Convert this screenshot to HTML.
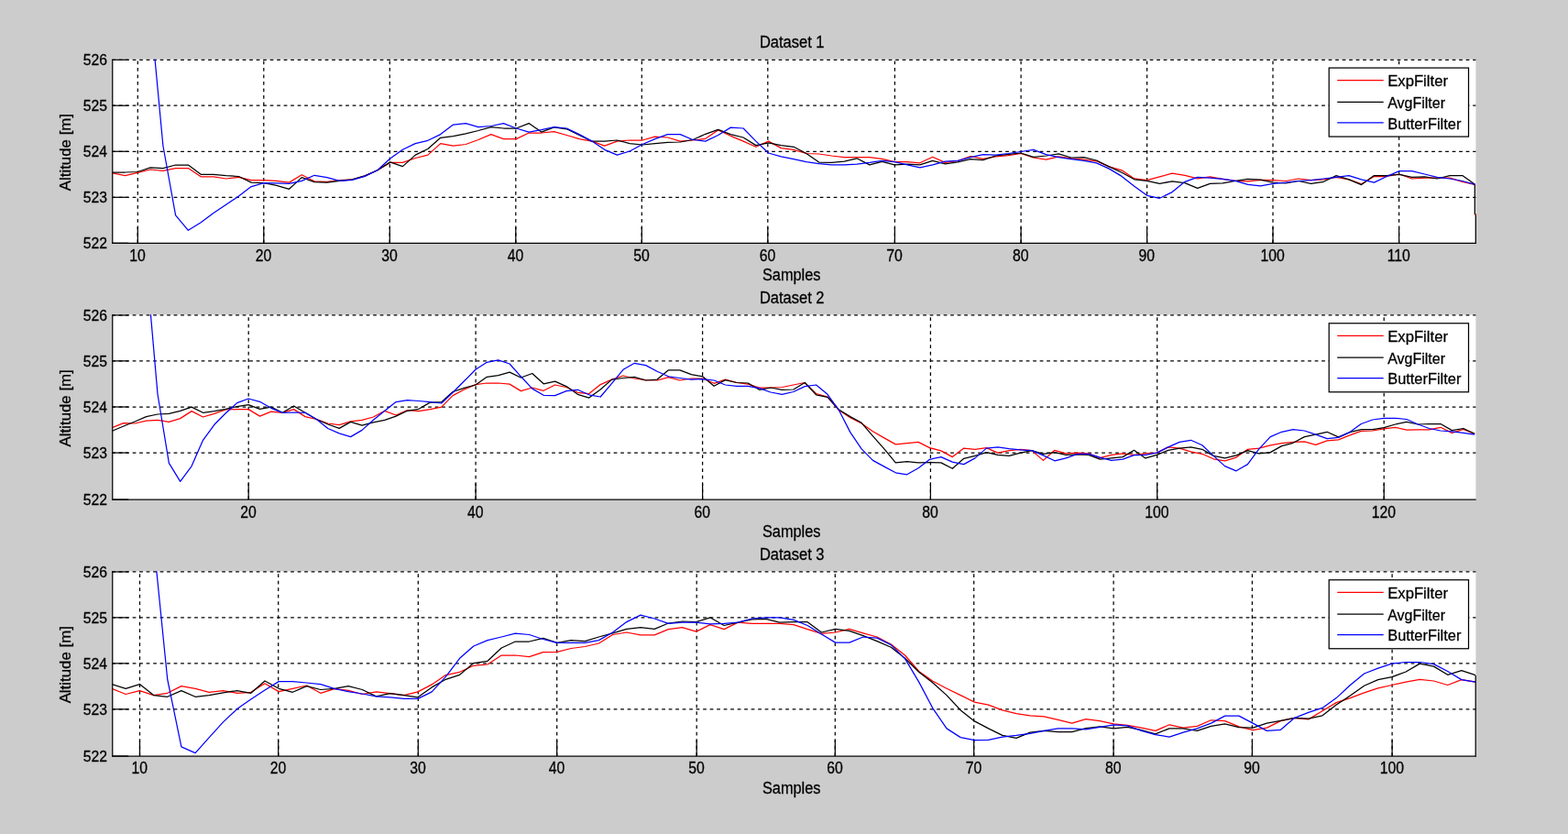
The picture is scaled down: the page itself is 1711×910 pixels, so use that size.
<!DOCTYPE html>
<html lang="en"><head><meta charset="utf-8"><title>Altitude filters</title>
<style>html,body{margin:0;padding:0;background:#cccccc;overflow:hidden}svg{display:block}text{font-family:"Liberation Sans",sans-serif;font-size:16.67px;fill:#000;stroke:#000;stroke-width:0.28px}.ax{stroke:#000;stroke-width:1.25;fill:none}.gr{stroke:#000;stroke-width:1.25;fill:none;stroke-dasharray:3.75 3.75}.c{fill:none;stroke-width:1.25;stroke-linejoin:round}</style></head><body>
<svg width="1711" height="910" viewBox="0 0 1711 910">
<rect x="0" y="0" width="1711" height="910" fill="#cccccc"/>
<g id="plot1">
<clipPath id="cp1"><rect x="122.15" y="64.68" width="1488.85" height="201.22"/></clipPath>
<rect x="122.15" y="64.68" width="1488.25" height="201.22" fill="#fff"/>
<line class="gr" x1="122.15" y1="65.28" x2="1610.40" y2="65.28"/>
<line class="ax" x1="122.75" y1="65.28" x2="140.25" y2="65.28"/>
<text transform="translate(116.9 70.98) scale(0.945 1.04)" text-anchor="end">526</text>
<line class="gr" x1="122.15" y1="115.20" x2="1610.40" y2="115.20"/>
<line class="ax" x1="122.75" y1="115.20" x2="140.25" y2="115.20"/>
<text transform="translate(116.9 120.90) scale(0.945 1.04)" text-anchor="end">525</text>
<line class="gr" x1="122.15" y1="165.25" x2="1610.40" y2="165.25"/>
<line class="ax" x1="122.75" y1="165.25" x2="140.25" y2="165.25"/>
<text transform="translate(116.9 170.95) scale(0.945 1.04)" text-anchor="end">524</text>
<line class="gr" x1="122.15" y1="215.30" x2="1610.40" y2="215.30"/>
<line class="ax" x1="122.75" y1="215.30" x2="140.25" y2="215.30"/>
<text transform="translate(116.9 221.00) scale(0.945 1.04)" text-anchor="end">523</text>
<line class="ax" x1="122.75" y1="265.30" x2="140.25" y2="265.30"/>
<text transform="translate(116.9 271.00) scale(0.945 1.04)" text-anchor="end">522</text>
<line class="gr" x1="150.30" y1="265.30" x2="150.30" y2="65.28" stroke-dashoffset="0"/>
<line class="ax" x1="150.30" y1="265.30" x2="150.30" y2="247.80"/>
<text transform="translate(150.00 284.70) scale(0.945 1.05)" text-anchor="middle">10</text>
<line class="gr" x1="287.80" y1="265.30" x2="287.80" y2="65.28" stroke-dashoffset="0"/>
<line class="ax" x1="287.80" y1="265.30" x2="287.80" y2="247.80"/>
<text transform="translate(287.50 284.70) scale(0.945 1.05)" text-anchor="middle">20</text>
<line class="gr" x1="425.30" y1="265.30" x2="425.30" y2="65.28" stroke-dashoffset="0"/>
<line class="ax" x1="425.30" y1="265.30" x2="425.30" y2="247.80"/>
<text transform="translate(425.00 284.70) scale(0.945 1.05)" text-anchor="middle">30</text>
<line class="gr" x1="562.80" y1="265.30" x2="562.80" y2="65.28" stroke-dashoffset="0"/>
<line class="ax" x1="562.80" y1="265.30" x2="562.80" y2="247.80"/>
<text transform="translate(562.50 284.70) scale(0.945 1.05)" text-anchor="middle">40</text>
<line class="gr" x1="700.30" y1="265.30" x2="700.30" y2="65.28" stroke-dashoffset="0"/>
<line class="ax" x1="700.30" y1="265.30" x2="700.30" y2="247.80"/>
<text transform="translate(700.00 284.70) scale(0.945 1.05)" text-anchor="middle">50</text>
<line class="gr" x1="837.80" y1="265.30" x2="837.80" y2="65.28" stroke-dashoffset="0"/>
<line class="ax" x1="837.80" y1="265.30" x2="837.80" y2="247.80"/>
<text transform="translate(837.50 284.70) scale(0.945 1.05)" text-anchor="middle">60</text>
<line class="gr" x1="976.40" y1="265.30" x2="976.40" y2="65.28" stroke-dashoffset="0"/>
<line class="ax" x1="976.40" y1="265.30" x2="976.40" y2="247.80"/>
<text transform="translate(976.10 284.70) scale(0.945 1.05)" text-anchor="middle">70</text>
<line class="gr" x1="1114.10" y1="265.30" x2="1114.10" y2="65.28" stroke-dashoffset="0"/>
<line class="ax" x1="1114.10" y1="265.30" x2="1114.10" y2="247.80"/>
<text transform="translate(1113.80 284.70) scale(0.945 1.05)" text-anchor="middle">80</text>
<line class="gr" x1="1251.60" y1="265.30" x2="1251.60" y2="65.28" stroke-dashoffset="0"/>
<line class="ax" x1="1251.60" y1="265.30" x2="1251.60" y2="247.80"/>
<text transform="translate(1251.30 284.70) scale(0.945 1.05)" text-anchor="middle">90</text>
<line class="gr" x1="1389.00" y1="265.30" x2="1389.00" y2="65.28" stroke-dashoffset="0"/>
<line class="ax" x1="1389.00" y1="265.30" x2="1389.00" y2="247.80"/>
<text transform="translate(1388.70 284.70) scale(0.945 1.05)" text-anchor="middle">100</text>
<line class="gr" x1="1526.60" y1="265.30" x2="1526.60" y2="65.28" stroke-dashoffset="0"/>
<line class="ax" x1="1526.60" y1="265.30" x2="1526.60" y2="247.80"/>
<text transform="translate(1526.30 284.70) scale(0.945 1.05)" text-anchor="middle">110</text>
<g clip-path="url(#cp1)">
<polyline class="c" stroke="#ff0000" points="122.8,188.8 136.6,191.6 150.3,188.3 164.1,185.0 177.9,186.3 191.6,183.6 205.4,183.6 219.2,192.8 232.9,192.8 246.7,195.0 260.5,193.3 274.2,196.6 288.0,196.6 301.8,197.4 315.5,199.1 329.3,190.8 343.1,197.8 356.8,198.3 370.6,196.6 384.4,195.8 398.1,191.9 411.9,185.8 425.7,177.4 439.4,177.4 453.2,172.5 466.9,169.1 480.7,156.6 494.5,159.1 508.2,157.5 522.0,152.5 535.8,146.6 549.5,151.6 563.3,151.6 577.1,145.0 590.8,145.0 604.6,143.6 618.4,147.5 632.1,151.6 645.9,154.1 659.7,159.1 673.4,154.1 687.2,153.0 701.0,153.0 714.7,149.1 728.5,150.0 742.3,154.1 756.0,153.0 769.8,151.3 783.6,142.0 797.3,148.3 811.1,154.1 824.9,160.3 838.6,154.1 852.4,161.6 866.2,163.3 879.9,167.5 893.7,168.0 907.5,170.0 921.2,171.6 935.0,171.6 948.8,171.6 962.5,173.3 976.3,176.6 990.1,176.6 1003.8,177.8 1017.6,171.3 1031.4,177.4 1045.1,175.5 1058.9,170.5 1072.7,173.3 1086.4,170.8 1100.2,169.6 1114.0,167.5 1127.7,172.0 1141.5,174.1 1155.2,170.8 1169.0,172.8 1182.8,174.1 1196.5,175.8 1210.3,181.9 1224.1,185.8 1237.8,194.9 1251.6,196.6 1265.4,192.9 1279.1,189.1 1292.9,191.3 1306.7,194.9 1320.4,192.9 1334.2,195.3 1348.0,197.4 1361.7,197.8 1375.5,196.3 1389.3,196.6 1403.0,197.5 1416.8,195.0 1430.6,196.6 1444.3,195.8 1458.1,193.3 1471.9,195.8 1485.6,200.8 1499.4,192.5 1513.2,192.5 1526.9,190.0 1540.7,195.0 1554.5,194.1 1568.2,194.1 1582.0,194.1 1595.8,198.3 1609.5,201.3"/>
<polyline class="c" stroke="#000000" points="122.8,188.0 136.6,188.0 150.3,187.5 164.1,182.8 177.9,183.6 191.6,180.0 205.4,180.0 219.2,190.3 232.9,190.3 246.7,191.6 260.5,192.5 274.2,199.1 288.0,199.6 301.8,202.4 315.5,206.3 329.3,193.6 343.1,198.6 356.8,199.1 370.6,197.4 384.4,195.8 398.1,191.9 411.9,185.8 425.7,176.9 439.4,181.6 453.2,169.1 466.9,162.5 480.7,150.3 494.5,148.6 508.2,145.8 522.0,142.5 535.8,138.6 549.5,140.0 563.3,140.0 577.1,134.6 590.8,144.1 604.6,138.8 618.4,140.8 632.1,147.5 645.9,154.1 659.7,154.1 673.4,153.0 687.2,156.6 701.0,158.0 714.7,156.6 728.5,155.3 742.3,155.0 756.0,152.5 769.8,146.3 783.6,141.3 797.3,146.6 811.1,150.0 824.9,158.6 838.6,155.8 852.4,158.6 866.2,160.3 879.9,167.5 893.7,177.1 907.5,177.4 921.2,176.1 935.0,172.8 948.8,179.9 962.5,176.3 976.3,179.9 990.1,179.1 1003.8,179.9 1017.6,175.3 1031.4,178.8 1045.1,176.9 1058.9,173.6 1072.7,174.6 1086.4,170.0 1100.2,168.3 1114.0,167.0 1127.7,171.3 1141.5,170.0 1155.2,167.8 1169.0,172.0 1182.8,171.6 1196.5,175.0 1210.3,181.9 1224.1,188.3 1237.8,195.8 1251.6,197.4 1265.4,200.3 1279.1,197.9 1292.9,199.6 1306.7,205.3 1320.4,200.3 1334.2,199.9 1348.0,197.4 1361.7,195.3 1375.5,196.1 1389.3,199.1 1403.0,200.0 1416.8,197.5 1430.6,200.3 1444.3,198.3 1458.1,191.6 1471.9,195.8 1485.6,201.6 1499.4,191.6 1513.2,191.6 1526.9,190.3 1540.7,193.3 1554.5,192.8 1568.2,195.0 1582.0,191.6 1595.8,191.6 1609.5,201.3"/>
<polyline class="c" stroke="#0000ff" points="164.1,11.7 177.9,159.0 191.6,234.9 205.4,251.3 219.2,242.8 232.9,232.4 246.7,223.3 260.5,214.1 274.2,203.6 288.0,199.6 301.8,199.9 315.5,200.4 329.3,197.4 343.1,191.3 356.8,193.6 370.6,197.4 384.4,196.3 398.1,192.4 411.9,185.8 425.7,173.0 439.4,163.3 453.2,156.6 466.9,153.3 480.7,146.6 494.5,136.1 508.2,134.6 522.0,138.6 535.8,137.5 549.5,134.6 563.3,140.0 577.1,144.1 590.8,141.6 604.6,138.6 618.4,140.0 632.1,146.6 645.9,154.1 659.7,163.3 673.4,169.1 687.2,165.0 701.0,157.5 714.7,151.6 728.5,146.6 742.3,146.6 756.0,152.5 769.8,154.1 783.6,147.5 797.3,139.1 811.1,140.0 824.9,154.1 838.6,167.0 852.4,170.8 866.2,173.6 879.9,176.6 893.7,178.6 907.5,179.9 921.2,179.9 935.0,179.1 948.8,177.4 962.5,175.3 976.3,176.6 990.1,179.9 1003.8,182.9 1017.6,179.9 1031.4,176.1 1045.1,175.3 1058.9,171.6 1072.7,168.6 1086.4,169.1 1100.2,167.5 1114.0,165.5 1127.7,163.3 1141.5,168.6 1155.2,171.6 1169.0,173.6 1182.8,175.3 1196.5,177.9 1210.3,184.1 1224.1,192.4 1237.8,203.3 1251.6,213.3 1265.4,216.3 1279.1,209.6 1292.9,198.3 1306.7,193.3 1320.4,194.1 1334.2,195.3 1348.0,197.4 1361.7,201.3 1375.5,202.9 1389.3,200.3 1403.0,199.1 1416.8,197.5 1430.6,196.6 1444.3,195.0 1458.1,193.3 1471.9,191.6 1485.6,195.8 1499.4,199.1 1513.2,192.5 1526.9,186.6 1540.7,186.6 1554.5,190.0 1568.2,193.3 1582.0,195.0 1595.8,197.5 1609.5,201.3"/>
</g>
<polyline class="ax" points="1609.3,201.3 1609.3,233.5 1610.3,234.5 1610.3,265.9"/>
<rect x="1609.6" y="233.3" width="1.2" height="1.6" fill="#e00"/>
<line class="ax" x1="122.75" y1="64.68" x2="122.75" y2="265.90"/>
<line class="ax" x1="122.15" y1="265.30" x2="1610.70" y2="265.30"/>
<text transform="translate(864.20 52.30) scale(0.99 1.06)" text-anchor="middle">Dataset 1</text>
<text transform="translate(863.70 306.30) scale(0.98 1.07)" text-anchor="middle">Samples</text>
<text transform="translate(77.30 166.09) rotate(-90) scale(1.01 1.03)" text-anchor="middle">Altitude [m]</text>
<rect class="ax" x="1450.20" y="74.08" width="152.30" height="75.00" fill="#fff" style="fill:#fff"/>
<line x1="1459.20" y1="87.73" x2="1509.70" y2="87.73" stroke="#ff0000" stroke-width="1.25"/>
<text transform="translate(1514.20 94.33) scale(1.000 1.01)">ExpFilter</text>
<line x1="1459.20" y1="111.38" x2="1509.70" y2="111.38" stroke="#000000" stroke-width="1.25"/>
<text transform="translate(1514.20 118.18) scale(0.960 1.01)">AvgFilter</text>
<line x1="1459.20" y1="133.93" x2="1509.70" y2="133.93" stroke="#0000ff" stroke-width="1.25"/>
<text transform="translate(1514.20 140.78) scale(0.985 1.01)">ButterFilter</text>
</g>
<g id="plot2">
<clipPath id="cp2"><rect x="122.15" y="343.35" width="1488.85" height="202.35"/></clipPath>
<rect x="122.15" y="343.35" width="1488.25" height="202.35" fill="#fff"/>
<line class="gr" x1="122.15" y1="343.95" x2="1610.40" y2="343.95"/>
<line class="ax" x1="122.75" y1="343.95" x2="140.25" y2="343.95"/>
<text transform="translate(116.9 349.65) scale(0.945 1.04)" text-anchor="end">526</text>
<line class="gr" x1="122.15" y1="393.85" x2="1610.40" y2="393.85"/>
<line class="ax" x1="122.75" y1="393.85" x2="140.25" y2="393.85"/>
<text transform="translate(116.9 399.55) scale(0.945 1.04)" text-anchor="end">525</text>
<line class="gr" x1="122.15" y1="444.00" x2="1610.40" y2="444.00"/>
<line class="ax" x1="122.75" y1="444.00" x2="140.25" y2="444.00"/>
<text transform="translate(116.9 449.70) scale(0.945 1.04)" text-anchor="end">524</text>
<line class="gr" x1="122.15" y1="494.05" x2="1610.40" y2="494.05"/>
<line class="ax" x1="122.75" y1="494.05" x2="140.25" y2="494.05"/>
<text transform="translate(116.9 499.75) scale(0.945 1.04)" text-anchor="end">523</text>
<line class="ax" x1="122.75" y1="545.10" x2="140.25" y2="545.10"/>
<text transform="translate(116.9 550.80) scale(0.945 1.04)" text-anchor="end">522</text>
<line class="gr" x1="271.20" y1="545.10" x2="271.20" y2="343.95" stroke-dashoffset="0"/>
<line class="ax" x1="271.20" y1="545.10" x2="271.20" y2="527.60"/>
<text transform="translate(270.90 564.50) scale(0.945 1.05)" text-anchor="middle">20</text>
<line class="gr" x1="519.10" y1="545.10" x2="519.10" y2="343.95" stroke-dashoffset="0"/>
<line class="ax" x1="519.10" y1="545.10" x2="519.10" y2="527.60"/>
<text transform="translate(518.80 564.50) scale(0.945 1.05)" text-anchor="middle">40</text>
<line class="gr" x1="766.60" y1="545.10" x2="766.60" y2="343.95" stroke-dashoffset="0"/>
<line class="ax" x1="766.60" y1="545.10" x2="766.60" y2="527.60"/>
<text transform="translate(766.30 564.50) scale(0.945 1.05)" text-anchor="middle">60</text>
<line class="gr" x1="1015.40" y1="545.10" x2="1015.40" y2="343.95" stroke-dashoffset="0"/>
<line class="ax" x1="1015.40" y1="545.10" x2="1015.40" y2="527.60"/>
<text transform="translate(1015.10 564.50) scale(0.945 1.05)" text-anchor="middle">80</text>
<line class="gr" x1="1262.70" y1="545.10" x2="1262.70" y2="343.95" stroke-dashoffset="0"/>
<line class="ax" x1="1262.70" y1="545.10" x2="1262.70" y2="527.60"/>
<text transform="translate(1262.40 564.50) scale(0.945 1.05)" text-anchor="middle">100</text>
<line class="gr" x1="1510.20" y1="545.10" x2="1510.20" y2="343.95" stroke-dashoffset="0"/>
<line class="ax" x1="1510.20" y1="545.10" x2="1510.20" y2="527.60"/>
<text transform="translate(1509.90 564.50) scale(0.945 1.05)" text-anchor="middle">120</text>
<g clip-path="url(#cp2)">
<polyline class="c" stroke="#ff0000" points="122.4,466.6 134.8,461.6 147.2,462.0 159.6,459.1 172.0,458.3 184.4,460.3 196.7,456.6 209.1,448.6 221.5,455.0 233.9,451.3 246.3,447.0 258.7,446.6 271.1,446.6 283.5,454.1 295.9,449.1 308.2,450.3 320.6,446.6 333.0,454.6 345.4,457.5 357.8,462.0 370.2,463.6 382.6,459.9 395.0,458.3 407.4,455.0 419.8,448.3 432.1,453.0 444.5,447.5 456.9,448.6 469.3,446.6 481.7,444.1 494.1,431.6 506.5,425.0 518.9,419.6 531.3,418.0 543.7,418.0 556.1,419.1 568.4,426.6 580.8,423.0 593.2,426.3 605.6,420.0 618.0,422.5 630.4,428.3 642.8,429.6 655.2,419.6 667.6,414.1 680.0,410.0 692.3,413.0 704.7,414.6 717.1,415.0 729.5,411.6 741.9,415.0 754.3,413.0 766.7,413.0 779.1,418.3 791.5,414.1 803.9,417.5 816.2,419.1 828.6,423.0 841.0,423.0 853.4,422.5 865.8,420.0 878.2,417.5 890.6,429.5 903.0,433.0 915.4,447.5 927.8,455.8 940.1,462.0 952.5,470.8 964.9,477.9 977.3,484.9 989.7,483.6 1002.1,482.4 1014.5,488.6 1026.9,491.9 1039.3,498.6 1051.7,489.1 1064.0,490.3 1076.4,488.6 1088.8,494.1 1101.2,491.6 1113.6,490.3 1126.0,491.6 1138.4,502.4 1150.8,491.3 1163.2,494.9 1175.6,494.1 1187.9,494.9 1200.3,499.6 1212.7,496.3 1225.1,494.9 1237.5,496.3 1249.9,494.9 1262.3,494.1 1274.7,487.9 1287.1,489.1 1299.5,492.9 1311.8,495.3 1324.2,500.8 1336.6,502.8 1349.0,499.1 1361.4,490.3 1373.8,489.1 1386.2,485.8 1398.6,483.6 1411.0,482.4 1423.4,481.9 1435.7,485.4 1448.1,480.8 1460.5,479.9 1472.9,474.9 1485.3,470.3 1497.7,470.0 1510.1,467.8 1522.5,466.3 1534.9,469.1 1547.3,468.8 1559.6,468.8 1572.0,466.3 1584.4,472.4 1596.8,468.3 1609.2,473.3"/>
<polyline class="c" stroke="#000000" points="122.4,470.3 134.8,465.0 147.2,460.0 159.6,454.6 172.0,452.0 184.4,451.3 196.7,448.3 209.1,444.1 221.5,450.3 233.9,448.6 246.3,446.3 258.7,443.6 271.1,441.6 283.5,446.3 295.9,444.1 308.2,450.3 320.6,443.0 333.0,450.3 345.4,457.5 357.8,463.0 370.2,467.4 382.6,460.4 395.0,464.1 407.4,460.8 419.8,458.3 432.1,454.1 444.5,448.3 456.9,446.3 469.3,439.1 481.7,438.6 494.1,427.5 506.5,423.3 518.9,420.0 531.3,411.3 543.7,409.6 556.1,406.1 568.4,412.0 580.8,407.5 593.2,418.8 605.6,416.1 618.0,421.6 630.4,430.3 642.8,434.1 655.2,425.0 667.6,414.1 680.0,412.5 692.3,411.3 704.7,415.0 717.1,414.1 729.5,403.8 741.9,403.8 754.3,408.6 766.7,410.8 779.1,421.3 791.5,414.6 803.9,417.5 816.2,418.0 828.6,425.3 841.0,423.0 853.4,425.3 865.8,425.0 878.2,417.5 890.6,430.8 903.0,433.3 915.4,447.0 927.8,454.6 940.1,461.3 952.5,475.8 964.9,489.9 977.3,504.9 989.7,503.6 1002.1,504.9 1014.5,504.6 1026.9,504.9 1039.3,511.3 1051.7,500.3 1064.0,497.4 1076.4,493.6 1088.8,496.3 1101.2,497.4 1113.6,494.1 1126.0,491.6 1138.4,495.3 1150.8,493.6 1163.2,496.3 1175.6,495.8 1187.9,496.3 1200.3,501.1 1212.7,499.9 1225.1,498.6 1237.5,491.3 1249.9,499.9 1262.3,496.3 1274.7,491.3 1287.1,489.1 1299.5,487.9 1311.8,490.3 1324.2,497.4 1336.6,499.9 1349.0,496.9 1361.4,491.6 1373.8,494.9 1386.2,493.6 1398.6,486.6 1411.0,483.3 1423.4,476.6 1435.7,474.1 1448.1,471.3 1460.5,476.9 1472.9,471.6 1485.3,468.6 1497.7,468.6 1510.1,466.6 1522.5,463.0 1534.9,460.3 1547.3,463.0 1559.6,462.5 1572.0,462.5 1584.4,469.6 1596.8,467.5 1609.2,473.3"/>
<polyline class="c" stroke="#0000ff" points="159.6,287.7 172.0,430.0 184.4,505.3 196.7,525.3 209.1,508.6 221.5,480.3 233.9,463.3 246.3,450.8 258.7,439.6 271.1,435.0 283.5,438.3 295.9,445.3 308.2,450.3 320.6,450.0 333.0,450.3 345.4,457.5 357.8,467.5 370.2,472.9 382.6,476.6 395.0,469.4 407.4,458.3 419.8,448.3 432.1,438.6 444.5,436.6 456.9,437.5 469.3,438.6 481.7,440.0 494.1,428.3 506.5,415.8 518.9,403.3 531.3,395.3 543.7,392.8 556.1,397.0 568.4,410.8 580.8,424.1 593.2,431.3 605.6,431.6 618.0,426.6 630.4,425.3 642.8,430.8 655.2,433.0 667.6,418.3 680.0,403.3 692.3,396.3 704.7,398.6 717.1,405.3 729.5,410.8 741.9,412.5 754.3,414.1 766.7,413.6 779.1,415.0 791.5,420.0 803.9,421.3 816.2,421.3 828.6,423.6 841.0,428.0 853.4,430.3 865.8,427.5 878.2,421.6 890.6,420.0 903.0,430.3 915.4,447.5 927.8,471.6 940.1,489.9 952.5,502.4 964.9,509.1 977.3,515.8 989.7,517.8 1002.1,510.8 1014.5,501.3 1026.9,498.6 1039.3,504.1 1051.7,506.6 1064.0,499.9 1076.4,489.1 1088.8,487.8 1101.2,489.6 1113.6,490.8 1126.0,491.6 1138.4,496.9 1150.8,502.8 1163.2,499.9 1175.6,495.3 1187.9,495.3 1200.3,499.1 1212.7,502.4 1225.1,501.1 1237.5,496.6 1249.9,496.3 1262.3,494.1 1274.7,487.9 1287.1,482.4 1299.5,480.3 1311.8,485.8 1324.2,497.4 1336.6,508.6 1349.0,513.8 1361.4,506.6 1373.8,489.9 1386.2,476.6 1398.6,471.3 1411.0,468.6 1423.4,470.0 1435.7,474.1 1448.1,478.6 1460.5,477.4 1472.9,471.6 1485.3,462.5 1497.7,458.0 1510.1,456.3 1522.5,456.3 1534.9,457.5 1547.3,463.0 1559.6,467.5 1572.0,470.0 1584.4,470.8 1596.8,472.4 1609.2,474.1"/>
</g>
<line class="ax" x1="122.75" y1="343.35" x2="122.75" y2="545.70"/>
<line class="ax" x1="122.15" y1="545.10" x2="1610.70" y2="545.10"/>
<text transform="translate(864.20 331.40) scale(0.99 1.06)" text-anchor="middle">Dataset 2</text>
<text transform="translate(863.70 586.10) scale(0.98 1.07)" text-anchor="middle">Samples</text>
<text transform="translate(77.30 445.32) rotate(-90) scale(1.01 1.03)" text-anchor="middle">Altitude [m]</text>
<rect class="ax" x="1450.20" y="352.75" width="152.30" height="75.00" fill="#fff" style="fill:#fff"/>
<line x1="1459.20" y1="366.40" x2="1509.70" y2="366.40" stroke="#ff0000" stroke-width="1.25"/>
<text transform="translate(1514.20 373.00) scale(1.000 1.01)">ExpFilter</text>
<line x1="1459.20" y1="390.05" x2="1509.70" y2="390.05" stroke="#000000" stroke-width="1.25"/>
<text transform="translate(1514.20 396.85) scale(0.960 1.01)">AvgFilter</text>
<line x1="1459.20" y1="412.60" x2="1509.70" y2="412.60" stroke="#0000ff" stroke-width="1.25"/>
<text transform="translate(1514.20 419.45) scale(0.985 1.01)">ButterFilter</text>
</g>
<g id="plot3">
<clipPath id="cp3"><rect x="122.15" y="623.35" width="1488.85" height="202.25"/></clipPath>
<rect x="122.15" y="623.35" width="1488.25" height="202.25" fill="#fff"/>
<line class="gr" x1="122.15" y1="623.95" x2="1610.40" y2="623.95"/>
<line class="ax" x1="122.75" y1="623.95" x2="140.25" y2="623.95"/>
<text transform="translate(116.9 629.65) scale(0.945 1.04)" text-anchor="end">526</text>
<line class="gr" x1="122.15" y1="673.85" x2="1610.40" y2="673.85"/>
<line class="ax" x1="122.75" y1="673.85" x2="140.25" y2="673.85"/>
<text transform="translate(116.9 679.55) scale(0.945 1.04)" text-anchor="end">525</text>
<line class="gr" x1="122.15" y1="723.85" x2="1610.40" y2="723.85"/>
<line class="ax" x1="122.75" y1="723.85" x2="140.25" y2="723.85"/>
<text transform="translate(116.9 729.55) scale(0.945 1.04)" text-anchor="end">524</text>
<line class="gr" x1="122.15" y1="773.85" x2="1610.40" y2="773.85"/>
<line class="ax" x1="122.75" y1="773.85" x2="140.25" y2="773.85"/>
<text transform="translate(116.9 779.55) scale(0.945 1.04)" text-anchor="end">523</text>
<line class="ax" x1="122.75" y1="825.00" x2="140.25" y2="825.00"/>
<text transform="translate(116.9 830.70) scale(0.945 1.04)" text-anchor="end">522</text>
<line class="gr" x1="152.50" y1="825.00" x2="152.50" y2="623.95" stroke-dashoffset="0"/>
<line class="ax" x1="152.50" y1="825.00" x2="152.50" y2="807.50"/>
<text transform="translate(152.20 844.40) scale(0.945 1.05)" text-anchor="middle">10</text>
<line class="gr" x1="303.70" y1="825.00" x2="303.70" y2="623.95" stroke-dashoffset="0"/>
<line class="ax" x1="303.70" y1="825.00" x2="303.70" y2="807.50"/>
<text transform="translate(303.40 844.40) scale(0.945 1.05)" text-anchor="middle">20</text>
<line class="gr" x1="456.30" y1="825.00" x2="456.30" y2="623.95" stroke-dashoffset="0"/>
<line class="ax" x1="456.30" y1="825.00" x2="456.30" y2="807.50"/>
<text transform="translate(456.00 844.40) scale(0.945 1.05)" text-anchor="middle">30</text>
<line class="gr" x1="607.70" y1="825.00" x2="607.70" y2="623.95" stroke-dashoffset="0"/>
<line class="ax" x1="607.70" y1="825.00" x2="607.70" y2="807.50"/>
<text transform="translate(607.40 844.40) scale(0.945 1.05)" text-anchor="middle">40</text>
<line class="gr" x1="760.20" y1="825.00" x2="760.20" y2="623.95" stroke-dashoffset="0"/>
<line class="ax" x1="760.20" y1="825.00" x2="760.20" y2="807.50"/>
<text transform="translate(759.90 844.40) scale(0.945 1.05)" text-anchor="middle">50</text>
<line class="gr" x1="911.30" y1="825.00" x2="911.30" y2="623.95" stroke-dashoffset="0"/>
<line class="ax" x1="911.30" y1="825.00" x2="911.30" y2="807.50"/>
<text transform="translate(911.00 844.40) scale(0.945 1.05)" text-anchor="middle">60</text>
<line class="gr" x1="1062.70" y1="825.00" x2="1062.70" y2="623.95" stroke-dashoffset="0"/>
<line class="ax" x1="1062.70" y1="825.00" x2="1062.70" y2="807.50"/>
<text transform="translate(1062.40 844.40) scale(0.945 1.05)" text-anchor="middle">70</text>
<line class="gr" x1="1215.10" y1="825.00" x2="1215.10" y2="623.95" stroke-dashoffset="0"/>
<line class="ax" x1="1215.10" y1="825.00" x2="1215.10" y2="807.50"/>
<text transform="translate(1214.80 844.40) scale(0.945 1.05)" text-anchor="middle">80</text>
<line class="gr" x1="1366.40" y1="825.00" x2="1366.40" y2="623.95" stroke-dashoffset="0"/>
<line class="ax" x1="1366.40" y1="825.00" x2="1366.40" y2="807.50"/>
<text transform="translate(1366.10 844.40) scale(0.945 1.05)" text-anchor="middle">90</text>
<line class="gr" x1="1519.10" y1="825.00" x2="1519.10" y2="623.95" stroke-dashoffset="0"/>
<line class="ax" x1="1519.10" y1="825.00" x2="1519.10" y2="807.50"/>
<text transform="translate(1518.80 844.40) scale(0.945 1.05)" text-anchor="middle">100</text>
<g clip-path="url(#cp3)">
<polyline class="c" stroke="#ff0000" points="122.0,751.3 137.2,757.5 152.4,753.6 167.6,758.6 182.7,756.3 197.9,748.6 213.1,751.3 228.3,755.3 243.5,753.6 258.7,756.3 273.8,755.3 289.0,745.8 304.2,754.6 319.4,751.3 334.6,748.0 349.8,756.3 364.9,751.6 380.1,753.3 395.3,757.5 410.5,754.9 425.7,756.6 440.9,758.6 456.0,754.9 471.2,746.9 486.4,736.6 501.6,733.3 516.8,726.3 532.0,725.0 547.2,715.0 562.3,715.0 577.5,716.6 592.7,711.6 607.9,711.3 623.1,707.5 638.3,705.5 653.4,702.0 668.6,692.5 683.8,690.0 699.0,692.8 714.2,692.8 729.4,686.6 744.5,684.6 759.7,689.1 774.9,681.6 790.1,686.6 805.3,679.1 820.5,680.3 835.6,680.3 850.8,680.3 866.0,681.6 881.2,686.7 896.4,691.3 911.6,690.0 926.8,686.3 941.9,690.8 957.1,695.0 972.3,703.0 987.5,715.0 1002.7,732.5 1017.9,743.3 1033.0,751.3 1048.2,758.6 1063.4,766.1 1078.6,769.1 1093.8,774.9 1109.0,778.6 1124.1,780.8 1139.3,781.9 1154.5,785.3 1169.7,789.1 1184.9,784.6 1200.1,786.6 1215.2,789.9 1230.4,791.3 1245.6,794.1 1260.8,797.4 1276.0,790.8 1291.2,794.1 1306.4,792.4 1321.5,785.8 1336.7,786.6 1351.9,792.9 1367.1,796.6 1382.3,794.1 1397.5,786.6 1412.6,783.3 1427.8,784.9 1443.0,775.8 1458.2,766.6 1473.4,761.6 1488.6,755.8 1503.7,750.8 1518.9,747.5 1534.1,744.1 1549.3,741.3 1564.5,743.0 1579.7,747.5 1594.8,741.6 1610.0,744.1"/>
<polyline class="c" stroke="#000000" points="122.0,746.6 137.2,751.3 152.4,746.6 167.6,758.6 182.7,760.3 197.9,753.6 213.1,760.3 228.3,758.6 243.5,755.8 258.7,753.6 273.8,756.3 289.0,743.0 304.2,751.3 319.4,755.3 334.6,748.6 349.8,752.5 364.9,751.3 380.1,748.6 395.3,752.5 410.5,759.9 425.7,756.6 440.9,758.6 456.0,760.8 471.2,749.9 486.4,741.3 501.6,736.3 516.8,723.6 532.0,721.3 547.2,707.0 562.3,700.0 577.5,700.0 592.7,696.3 607.9,701.3 623.1,698.6 638.3,699.6 653.4,695.0 668.6,690.8 683.8,686.3 699.0,684.6 714.2,686.3 729.4,680.0 744.5,678.0 759.7,678.6 774.9,673.8 790.1,682.5 805.3,679.1 820.5,675.8 835.6,675.3 850.8,679.1 866.0,678.6 881.2,678.7 896.4,690.0 911.6,686.3 926.8,688.3 941.9,693.6 957.1,699.6 972.3,706.3 987.5,718.3 1002.7,733.3 1017.9,745.0 1033.0,758.6 1048.2,774.9 1063.4,786.9 1078.6,794.9 1093.8,802.4 1109.0,805.3 1124.1,799.1 1139.3,797.4 1154.5,798.6 1169.7,798.6 1184.9,794.6 1200.1,792.9 1215.2,794.9 1230.4,793.3 1245.6,796.6 1260.8,800.8 1276.0,794.9 1291.2,794.9 1306.4,797.4 1321.5,792.4 1336.7,789.9 1351.9,793.6 1367.1,794.1 1382.3,789.1 1397.5,786.3 1412.6,783.3 1427.8,784.1 1443.0,780.8 1458.2,769.1 1473.4,759.1 1488.6,748.3 1503.7,741.6 1518.9,738.6 1534.1,733.0 1549.3,724.1 1564.5,727.1 1579.7,736.3 1594.8,731.6 1610.0,736.6"/>
<polyline class="c" stroke="#0000ff" points="167.6,590.7 182.7,741.0 197.9,814.9 213.1,821.6 228.3,804.6 243.5,787.9 258.7,773.6 273.8,763.0 289.0,753.0 304.2,743.6 319.4,743.6 334.6,745.0 349.8,746.6 364.9,751.3 380.1,754.6 395.3,757.0 410.5,759.9 425.7,760.8 440.9,762.4 456.0,762.4 471.2,754.9 486.4,738.3 501.6,718.3 516.8,705.0 532.0,698.6 547.2,695.0 562.3,691.1 577.5,692.5 592.7,697.5 607.9,701.3 623.1,701.3 638.3,701.3 653.4,698.6 668.6,690.0 683.8,678.6 699.0,671.1 714.2,675.0 729.4,680.3 744.5,679.1 759.7,679.1 774.9,680.8 790.1,680.3 805.3,679.1 820.5,675.0 835.6,673.8 850.8,673.8 866.0,676.3 881.2,682.5 896.4,692.0 911.6,701.1 926.8,701.1 941.9,695.0 957.1,696.1 972.3,703.6 987.5,718.6 1002.7,744.1 1017.9,772.9 1033.0,794.9 1048.2,804.6 1063.4,807.7 1078.6,807.4 1093.8,804.1 1109.0,802.4 1124.1,800.3 1139.3,797.4 1154.5,794.9 1169.7,794.9 1184.9,795.8 1200.1,793.3 1215.2,790.8 1230.4,791.9 1245.6,797.4 1260.8,801.6 1276.0,804.1 1291.2,799.1 1306.4,794.9 1321.5,789.1 1336.7,781.1 1351.9,781.1 1367.1,789.1 1382.3,797.4 1397.5,796.3 1412.6,783.3 1427.8,777.4 1443.0,772.4 1458.2,761.6 1473.4,747.5 1488.6,735.0 1503.7,729.1 1518.9,724.1 1534.1,722.5 1549.3,722.5 1564.5,724.6 1579.7,732.5 1594.8,741.6 1610.0,744.1"/>
</g>
<polyline class="ax" points="1610.2,736.9 1610.2,825.5"/>
<line class="ax" x1="122.75" y1="623.35" x2="122.75" y2="825.60"/>
<line class="ax" x1="122.15" y1="825.00" x2="1610.70" y2="825.00"/>
<text transform="translate(864.20 611.40) scale(0.99 1.06)" text-anchor="middle">Dataset 3</text>
<text transform="translate(863.70 866.00) scale(0.98 1.07)" text-anchor="middle">Samples</text>
<text transform="translate(77.30 725.27) rotate(-90) scale(1.01 1.03)" text-anchor="middle">Altitude [m]</text>
<rect class="ax" x="1450.20" y="632.75" width="152.30" height="75.00" fill="#fff" style="fill:#fff"/>
<line x1="1459.20" y1="646.40" x2="1509.70" y2="646.40" stroke="#ff0000" stroke-width="1.25"/>
<text transform="translate(1514.20 653.00) scale(1.000 1.01)">ExpFilter</text>
<line x1="1459.20" y1="670.05" x2="1509.70" y2="670.05" stroke="#000000" stroke-width="1.25"/>
<text transform="translate(1514.20 676.85) scale(0.960 1.01)">AvgFilter</text>
<line x1="1459.20" y1="692.60" x2="1509.70" y2="692.60" stroke="#0000ff" stroke-width="1.25"/>
<text transform="translate(1514.20 699.45) scale(0.985 1.01)">ButterFilter</text>
</g>
</svg></body></html>
